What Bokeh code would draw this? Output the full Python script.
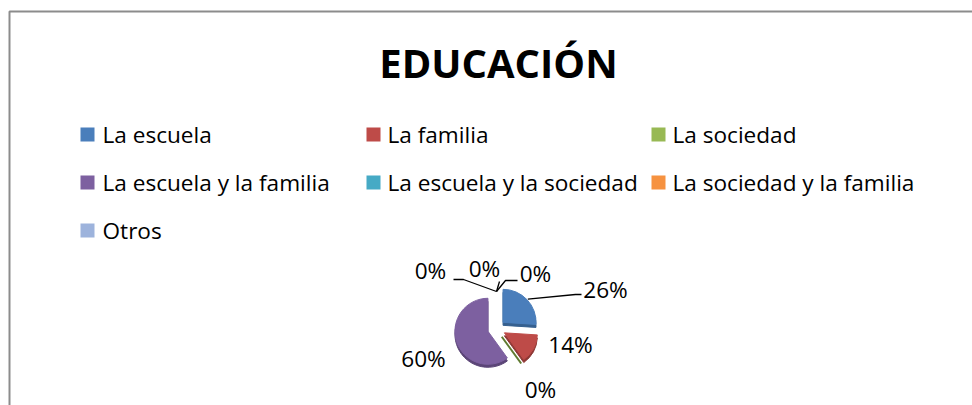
import numpy as np
from bokeh.plotting import figure
from bokeh.models import Range1d, ColumnDataSource
from bokeh.core.properties import value
from bokeh.embed import file_html
from bokeh.resources import INLINE

# ---- data ----
title = "EDUCACIÓN"
categories = ["La escuela", "La familia", "La sociedad", "La escuela y la familia",
              "La escuela y la sociedad", "La sociedad y la familia", "Otros"]
values = [26, 14, 0, 60, 0, 0, 0]
colors = ["#4A7EBB", "#BE4B48", "#98B954", "#7D60A0", "#46AAC5", "#F69240", "#9DB3DC"]
side_colors = ["#36608F", "#8E3734", "#5F7A30", "#5B4577", "#33809A", "#C06F2C", "#7388AE"]

# ---- layout (window pixel coordinates) ----
FONT = "Open Sans"
W, H = 972, 405
def Y(wy):
    return H - wy

p = figure(width=W, height=H, x_range=Range1d(0, W), y_range=Range1d(0, H),
           output_backend="svg", toolbar_location=None, min_border=0)
p.axis.visible = False
p.grid.visible = False
p.outline_line_color = None
p.background_fill_color = "white"
p.border_fill_color = "white"

# chart frame (top and left edges visible)
p.line(x=[9, 9, 972], y=[Y(410), Y(11), Y(11)], line_color="#8C8C8C", line_width=2)

# title
p.text(x=[498], y=[Y(62)], text=[title], text_font=value(FONT), text_font_style="bold",
       text_font_size="40px", text_align="center", text_baseline="middle", text_color="black")

# legend (3 columns, row-major)
col_mx = [87, 373, 658]
col_tx = [102, 387, 672]
row_y = [134, 182, 230]
lx, ly, tx = [], [], []
for i in range(len(categories)):
    r, c = divmod(i, 3)
    lx.append(col_mx[c]); tx.append(col_tx[c]); ly.append(Y(row_y[r]))
p.rect(x=lx, y=ly, width=14, height=14, width_units="screen", height_units="screen",
       fill_color=colors, line_color=None)
p.text(x=tx, y=ly, text=categories, text_font=value(FONT), text_font_size="22.6px",
       text_align="left", text_baseline="middle", text_color="black")

# pie
cx, cy = 496, Y(328)
R = 33
EXPL = 9
DEPTH = 3
v = np.array(values, dtype=float)
frac = v / v.sum()
cum = np.concatenate([[0], np.cumsum(frac)])
th0 = 2 * np.pi * cum[:-1]          # clockwise from top
th1 = 2 * np.pi * cum[1:]
mid = (th0 + th1) / 2
ox = cx + EXPL * np.sin(mid)
oy = cy + EXPL * np.cos(mid)
start = np.pi / 2 - th1
end = np.pi / 2 - th0

nz = v > 0
idx = np.where(nz)[0]
side = ColumnDataSource(dict(x=ox[idx], y=oy[idx] - DEPTH, s=start[idx], e=end[idx],
                             c=[side_colors[i] for i in idx]))
p.wedge(x="x", y="y", radius=R, start_angle="s", end_angle="e", direction="anticlock",
        fill_color="c", line_color="c", line_width=1, source=side)
top = ColumnDataSource(dict(x=ox[idx], y=oy[idx], s=start[idx], e=end[idx],
                            c=[colors[i] for i in idx]))
p.wedge(x="x", y="y", radius=R, start_angle="s", end_angle="e", direction="anticlock",
        fill_color="c", line_color="c", line_width=1, source=top)

# zero-valued slices: only their side wall on the front (lower) half is visible
zx0, zy0, zx1, zy1, zc = [], [], [], [], []
for i in np.where(~nz)[0]:
    if np.cos(th0[i]) < 0:
        zx0.append(ox[i]); zy0.append(oy[i] - 1)
        zx1.append(ox[i] + R * np.sin(th0[i])); zy1.append(oy[i] + R * np.cos(th0[i]) - 1)
        zc.append(side_colors[i])
p.segment(x0=zx0, y0=zy0, x1=zx1, y1=zy1, line_color=zc, line_width=2)

# data labels
lab_pos = [(605, 289), (570, 344), (540, 389), (423, 358), (430, 270), (484, 268), (535, 273)]
labels = [f"{int(round(val))}%" for val in values]
p.text(x=[a for a, b in lab_pos], y=[Y(b) for a, b in lab_pos], text=labels,
       text_font=value(FONT), text_font_size="22.6px", text_align="center",
       text_baseline="middle", text_color="black")

# leader lines (slice anchor -> elbow -> end)
leader = {0: [(575, 294), (581, 294)], 4: [(463, 279), (453, 279)],
          5: [(499, 281)], 6: [(505, 280), (517, 280)]}
xs, ys = [], []
for i, pts in leader.items():
    ax = ox[i] + (R - 5) * np.sin(mid[i]) if i > 0 else ox[i] + (R + 1) * np.sin(mid[i])
    ay = oy[i] + (R - 5) * np.cos(mid[i]) if i > 0 else oy[i] + (R + 1) * np.cos(mid[i])
    xs.append([ax] + [a for a, b in pts])
    ys.append([ay] + [Y(b) for a, b in pts])
p.multi_line(xs=xs, ys=ys, line_color="black", line_width=1.3)

open("out.html", "w").write(file_html(p, INLINE))
